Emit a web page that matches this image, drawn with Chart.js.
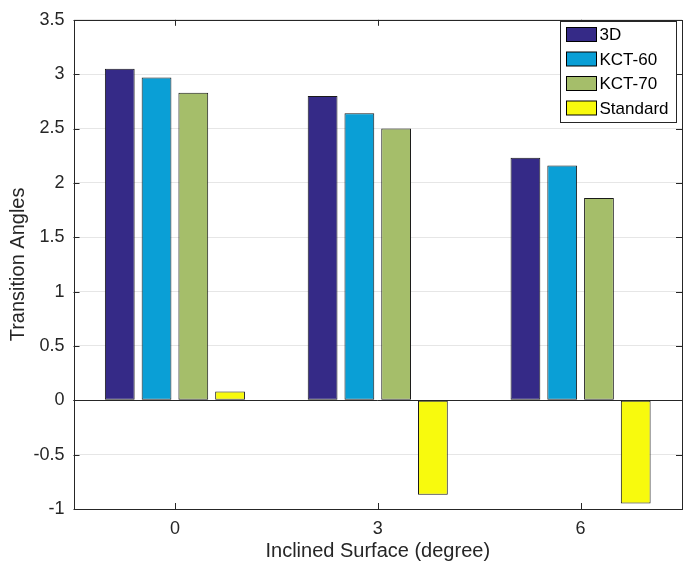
<!DOCTYPE html>
<html lang="en">
<head>
  <meta charset="UTF-8" />
  <title>Transition Angles</title>
  <script src="https://cdn.jsdelivr.net/npm/chart.js"></script>
  <style>
    html, body { margin: 0; padding: 0; background: #fff; }
    #wrap { width: 683px; height: 569px; }
  </style>
</head>
<body>
  <div id="wrap"><canvas id="chart" width="683" height="569"></canvas></div>
  <script>
    const categories = ['0', '3', '6'];
    const seriesNames = ['3D', 'KCT-60', 'KCT-70', 'Standard'];
    const val3D = [3.05, 2.80, 2.23];
    const valKCT60 = [2.97, 2.64, 2.16];
    const valKCT70 = [2.83, 2.50, 1.86];
    const valStandard = [0.08, -0.87, -0.95];
    const colors = ['#352a87', '#0a9fd6', '#a5be6a', '#f8fa0d'];

    const font = 'Liberation Sans, Arial, Helvetica, sans-serif';
    const textColor = '#262626';

    // draws the box, the inside ticks, the zero baseline and the legend
    const frame = {
      id: 'frame',
      afterDatasetsDraw(chart) {
        const { ctx, chartArea: a, scales } = chart;
        ctx.save();
        ctx.strokeStyle = '#262626';
        ctx.lineWidth = 1;
        // baseline at 0
        const y0 = Math.round(scales.y.getPixelForValue(0)) + 0.5;
        ctx.beginPath(); ctx.moveTo(a.left, y0); ctx.lineTo(a.right, y0); ctx.stroke();
        // box
        ctx.strokeRect(Math.round(a.left) + 0.5, Math.round(a.top) + 0.5,
          Math.round(a.right - a.left) - 1, Math.round(a.bottom - a.top));
        // inside tick marks
        ctx.beginPath();
        scales.y.ticks.forEach((t, i) => {
          const y = Math.round(scales.y.getPixelForTick(i)) + 0.5;
          ctx.moveTo(a.left, y); ctx.lineTo(a.left + 6, y);
          ctx.moveTo(a.right, y); ctx.lineTo(a.right - 6, y);
        });
        scales.x.ticks.forEach((t, i) => {
          const x = Math.round(scales.x.getPixelForTick(i)) + 0.5;
          ctx.moveTo(x, a.bottom); ctx.lineTo(x, a.bottom - 6);
          ctx.moveTo(x, a.top); ctx.lineTo(x, a.top + 6);
        });
        ctx.stroke();

        // legend
        const lx = 560.5, ly = 21.5, lw = 116, lh = 101;
        ctx.fillStyle = '#fff';
        ctx.fillRect(lx, ly, lw, lh);
        ctx.strokeStyle = '#262626';
        ctx.strokeRect(lx, ly, lw, lh);
        ctx.font = '17px ' + font;
        ctx.textBaseline = 'middle';
        chart.data.datasets.forEach((ds, i) => {
          const cy = ly + 13 + i * 24.5;
          ctx.fillStyle = ds.backgroundColor;
          ctx.fillRect(lx + 6, cy - 7, 30, 14);
          ctx.strokeStyle = '#000';
          ctx.strokeRect(lx + 6, cy - 7, 30, 14);
          ctx.fillStyle = '#000';
          ctx.fillText(ds.label, lx + 39, cy + 1);
        });
        ctx.restore();
      }
    };

    const seriesValues = [val3D, valKCT60, valKCT70, valStandard];

    new Chart(document.getElementById('chart'), {
      type: 'bar',
      data: {
        labels: categories,
        datasets: seriesNames.map((name, i) => ({
          label: name,
          data: seriesValues[i],
          backgroundColor: colors[i],
          borderColor: '#1a1a1a',
          borderWidth: 1,
          borderSkipped: false,
          categoryPercentage: 0.725,
          barPercentage: 0.81
        }))
      },
      options: {
        responsive: false,
        animation: false,
        devicePixelRatio: 1,
        layout: { padding: { top: 12, right: 1, left: 0, bottom: 0 } },
        plugins: { legend: { display: false }, tooltip: { enabled: false } },
        scales: {
          x: {
            grid: { display: false, drawTicks: false },
            border: { display: false },
            ticks: { color: textColor, font: { family: font, size: 18 }, padding: 9 },
            title: { display: true, text: 'Inclined Surface (degree)', color: textColor,
              font: { family: font, size: 20 }, padding: { top: 1, bottom: 6 } },
            afterFit(s) { s.height = 60; }
          },
          y: {
            min: -1, max: 3.5,
            grid: { color: '#e6e6e6', drawTicks: false },
            border: { display: false },
            ticks: { stepSize: 0.5, color: textColor, font: { family: font, size: 18 }, padding: 9,
              callback: v => String(v) },
            title: { display: true, text: 'Transition Angles', color: textColor,
              font: { family: font, size: 20 }, padding: { top: 6, bottom: 4 } },
            afterFit(s) { s.width = 73.5; }
          }
        }
      },
      plugins: [frame]
    });
  </script>
</body>
</html>
